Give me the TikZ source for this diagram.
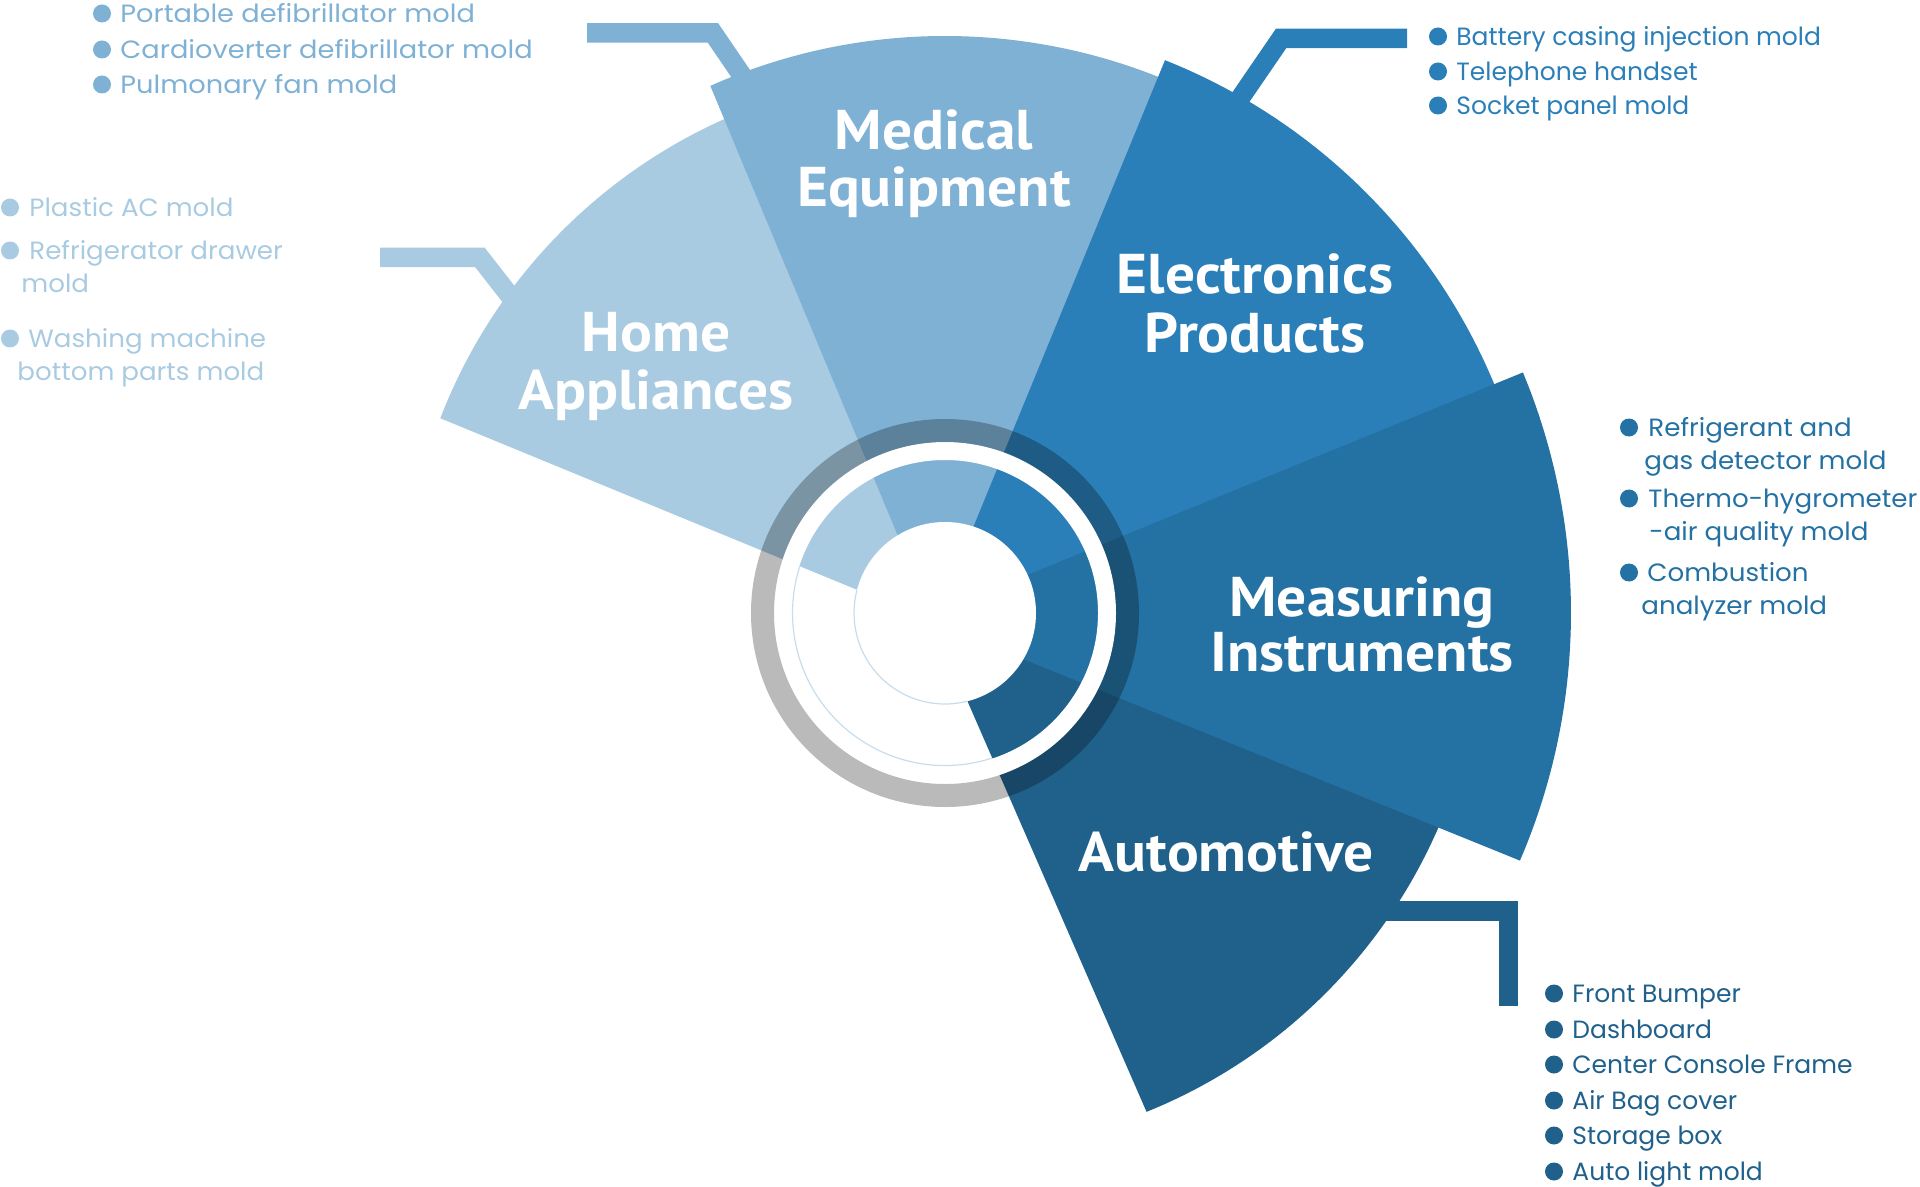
\documentclass[tikz,border=0pt]{standalone}
\usepackage{fontspec}
\usetikzlibrary{calc}
\newfontfamily\titlefont{PT Sans}[FakeStretch=1.06]
\newfontfamily\listMed{Poppins}[FakeStretch=1.09]
\newfontfamily\listHome{Poppins}[FakeStretch=1.045]
\newfontfamily\listMeas{Poppins}[FakeStretch=1.045]
\newfontfamily\listfont{Poppins}
\definecolor{cHome}{HTML}{A9CBE2}
\definecolor{cMed}{HTML}{7FB1D5}
\definecolor{cElec}{HTML}{2A7FB8}
\definecolor{cMeas}{HTML}{2471A3}
\definecolor{cAuto}{HTML}{20618C}
\definecolor{cThin}{HTML}{C8DDEC}
\tikzset{
  title/.style={font=\titlefont\bfseries\fontsize{28pt}{28pt}\selectfont, text=white, inner sep=0pt, anchor=base},
  item/.style={font=\listfont\fontsize{12.5pt}{15pt}\selectfont, text=#1, inner sep=0pt, anchor=base west},
  lMed/.style={item=cMed, font=\listMed\fontsize{12.5pt}{15pt}\selectfont},
  lHome/.style={item=cHome, font=\listHome\fontsize{12.5pt}{15pt}\selectfont},
  lMeas/.style={item=cMeas, font=\listMeas\fontsize{12.5pt}{15pt}\selectfont},
  lElec/.style={item=cElec},
  lAuto/.style={item=cAuto},
  bul/.style={circle, fill=#1, inner sep=0pt, minimum size=9pt},
  conn/.style={draw=#1, line width=9.75pt, line join=miter, line cap=butt},
}
\begin{document}
\begin{tikzpicture}[x=0.5pt,y=-0.5pt]
\useasboundingbox (0,0) rectangle (1920,1187);
\coordinate (C) at (945,613);
% sectors
\fill[cHome] (945,626) -- ($(C)+(-158.9:541)$) arc[start angle=-158.9,end angle=-100,radius=541] -- cycle;
\fill[cMed] (930,613) -- ($(C)+(-114:577)$) arc[start angle=-114,end angle=-60,radius=577] -- cycle;
\fill[cElec] (938,613) -- ($(C)+(-68.3:595)$) arc[start angle=-68.3,end angle=-10,radius=595] -- cycle;
\fill[cAuto] (929,613) -- ($(C)+(68:538)$) arc[start angle=68,end angle=15,radius=538] -- cycle;
\fill[cMeas] (922,618) -- ($(C)+(-22.6:626)$) arc[start angle=-22.6,end angle=23.3,radius=626] -- cycle;
% connectors
\coordinate (hA) at (380,257.5); \coordinate (hB) at (480,257.5); \coordinate (hC) at (535,328);
\coordinate (mA) at (587,33);    \coordinate (mB) at (713,33);    \coordinate (mC) at (758,99);
\coordinate (eA) at (1407,38.5); \coordinate (eB) at (1281,38.5); \coordinate (eC) at (1230,113);
\coordinate (aA) at (1370,911);  \coordinate (aB) at (1508.5,911); \coordinate (aC) at (1508.5,1006);
\draw[conn=cHome] (hA) -- (hB) -- (hC);
\draw[conn=cMed] (mA) -- (mB) -- (mC);
\draw[conn=cElec] (eA) -- (eB) -- (eC);
\draw[conn=cAuto] (aA) -- (aB) -- (aC);
% rings
\fill[white,even odd rule] (C) circle[radius=171] (C) circle[radius=153];
\fill[black,opacity=0.27,even odd rule] (C) circle[radius=194] (C) circle[radius=171];
\fill[white] (C) circle[radius=91];
\draw[cThin,line width=0.6pt] ($(C)+(72:152.5)$) arc[start angle=72,end angle=198,radius=152.5];
\draw[cThin,line width=0.6pt] ($(C)+(75.6:91)$) arc[start angle=75.6,end angle=194.8,radius=91];
% titles
\node[title] (tMed1) at (934,150) {Medical};
\node[title] (tMed2) at (934,207) {Equipment};
\node[title] (tHome1) at (656,351) {Home};
\node[title] (tHome2) at (656,409) {Appliances};
\node[title] (tEl1) at (1255,294) {Electronics};
\node[title] (tEl2) at (1255,352) {Products};
\node[title] (tMe1) at (1362,616) {Measuring};
\node[title] (tMe2) at (1362,671) {Instruments};
\node[title] (tAu) at (1226,871) {Automotive};
% medical list
\node[bul=cMed] (mb1) at (102,13.5) {};
\node[bul=cMed] (mb2) at (102,49.5) {};
\node[bul=cMed] (mb3) at (102,84.5) {};
\node[lMed] (mi1) at (120,22.5) {Portable defibrillator mold};
\node[lMed] (mi2) at (120,58.5) {Cardioverter defibrillator mold};
\node[lMed] (mi3) at (120,93.5) {Pulmonary fan mold};
% home list
\node[bul=cHome] (hb1) at (10,207.5) {};
\node[bul=cHome] (hb2) at (10,250.5) {};
\node[bul=cHome] (hb3) at (10,338.5) {};
\node[lHome] (hi1) at (29,216.5) {Plastic AC mold};
\node[lHome] (hi2) at (29,259.5) {Refrigerator drawer};
\node[lHome] (hi2b) at (21,292.5) {mold};
\node[lHome] (hi3) at (28,347.5) {Washing machine};
\node[lHome] (hi3b) at (17,380.5) {bottom parts mold};
% electronics list
\node[bul=cElec] (eb1) at (1438,36.5) {};
\node[bul=cElec] (eb2) at (1438,71.5) {};
\node[bul=cElec] (eb3) at (1438,105.5) {};
\node[lElec] (ei1) at (1456,45.5) {Battery casing injection mold};
\node[lElec] (ei2) at (1456,80.5) {Telephone handset};
\node[lElec] (ei3) at (1456,114.5) {Socket panel mold};
% measuring list
\node[bul=cMeas] (sb1) at (1629,427.5) {};
\node[bul=cMeas] (sb2) at (1629,498.5) {};
\node[bul=cMeas] (sb3) at (1629,572.5) {};
\node[lMeas] (si1) at (1648,436.5) {Refrigerant and};
\node[lMeas] (si1b) at (1644,469.5) {gas detector mold};
\node[lMeas] (si2) at (1648,507.5) {Thermo-hygrometer};
\node[lMeas] (si2b) at (1649,540.5) {-air quality mold};
\node[lMeas] (si3) at (1647,581.5) {Combustion};
\node[lMeas] (si3b) at (1641,614.5) {analyzer mold};
% automotive list
\node[bul=cAuto] (ab1) at (1554,993.5) {};
\node[bul=cAuto] (ab2) at (1554,1029.5) {};
\node[bul=cAuto] (ab3) at (1554,1064.5) {};
\node[bul=cAuto] (ab4) at (1554,1100.5) {};
\node[bul=cAuto] (ab5) at (1554,1135.5) {};
\node[bul=cAuto] (ab6) at (1554,1171.5) {};
\node[lAuto] (ai1) at (1572,1002.5) {Front Bumper};
\node[lAuto] (ai2) at (1572,1038.5) {Dashboard};
\node[lAuto] (ai3) at (1572,1073.5) {Center Console Frame};
\node[lAuto] (ai4) at (1572,1109.5) {Air Bag cover};
\node[lAuto] (ai5) at (1572,1144.5) {Storage box};
\node[lAuto] (ai6) at (1572,1180.5) {Auto light mold};
\end{tikzpicture}
\end{document}
